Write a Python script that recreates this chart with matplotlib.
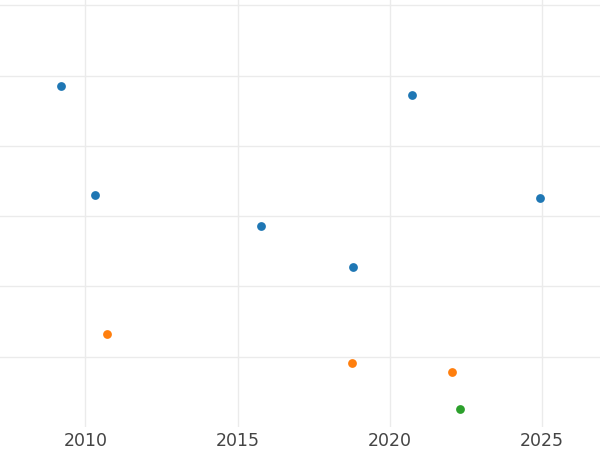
import numpy as np
from matplotlib import pyplot as plt

# values (y axis has no labels, arbitrary units)
blue_x = [2009.20, 2020.72, 2010.32, 2015.77, 2024.94, 2018.80]
blue_y = [4.855, 4.72, 3.30, 2.86, 3.26, 2.27]
orange_x = [2010.71, 2018.77, 2022.05]
orange_y = [1.32, 0.91, 0.78]
green_x = [2022.31]
green_y = [0.25]

x_ticks = [2010, 2015, 2020, 2025]
y_ticks = [1, 2, 3, 4, 5, 6]

fig = plt.figure(figsize=(6, 4.5), dpi=100)
ax = fig.add_axes([0, 1 - 427 / 450, 1, 427 / 450])

ax.scatter(blue_x, blue_y, s=40, color="#1f77b4", zorder=3, linewidths=0)
ax.scatter(orange_x, orange_y, s=40, color="#ff7f0e", zorder=3, linewidths=0)
ax.scatter(green_x, green_y, s=40, color="#2ca02c", zorder=3, linewidths=0)

ax.set_xlim(2007.20, 2026.905)
ax.set_ylim(0, 6.075)
ax.set_xticks(x_ticks)
ax.set_yticks(y_ticks)
ax.set_yticklabels([])
ax.grid(True, color="#ebebeb", linewidth=1.0)
ax.set_axisbelow(True)
for s in ax.spines.values():
    s.set_visible(False)
ax.tick_params(axis="both", length=0)
ax.tick_params(axis="x", labelsize=12.5, labelcolor="#444444", pad=3.5)

fig.savefig("out.png", dpi=100)
